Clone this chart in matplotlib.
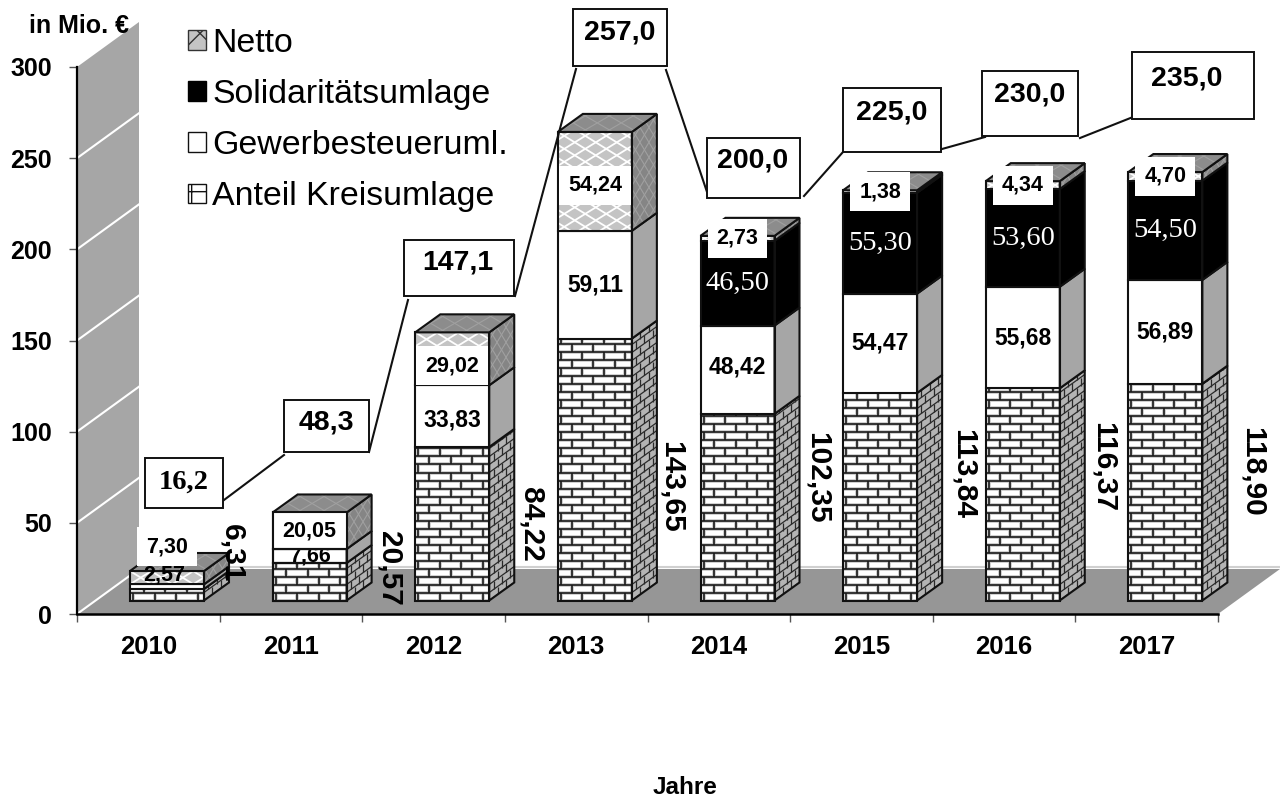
import numpy as np
import matplotlib
matplotlib.use("Agg")
import matplotlib.pyplot as plt
from matplotlib.patches import Polygon, Rectangle, Patch
from matplotlib.collections import LineCollection
from matplotlib.transforms import Affine2D

plt.rcParams['font.family'] = ['Liberation Sans', 'DejaVu Sans']
plt.rcParams['hatch.linewidth'] = 1.0

# data
years = ["2010", "2011", "2012", "2013", "2014", "2015", "2016", "2017"]
kreis = [6.31, 20.57, 84.22, 143.65, 102.35, 113.84, 116.37, 118.90]
gewerbe = [2.57, 7.66, 33.83, 59.11, 48.42, 54.47, 55.68, 56.89]
soli = [0, 0, 0, 0, 46.50, 55.30, 53.60, 54.50]
netto = [7.30, 20.05, 29.02, 54.24, 2.73, 1.38, 4.34, 4.70]
totals = [16.2, 48.3, 147.1, 257.0, 200.0, 225.0, 230.0, 235.0]
y_ticks = [0, 50, 100, 150, 200, 250, 300]

# geometry, in axis units
UX = 1 / 142.625       # one pixel along x
UY = 300 / 547.0       # one pixel along y
DX, DY = 62 * UX, 45 * UY
OFF_X, OFF_Y = 0.3 * DX, 0.3 * DY
SX, SY = 25 * UX, 18 * UY
BAR_W = 74 * UX
BAR_X = 130 * UX - 77 * UX

fig = plt.figure(figsize=(12.8, 7.99), dpi=100)
ax = fig.add_axes([77 / 1280, (799 - 614) / 799, 1141 / 1280, 547 / 799])
ax.set_xlim(0, 8)
ax.set_ylim(0, 300)
px = Affine2D().scale(1, -1).translate(0, 799) # pixel coords from top left


def face(points, color, z):
    p = Polygon(points, closed=True, facecolor=color, edgecolor='none', clip_on=False, zorder=z)
    ax.add_patch(p)
    return p


def outline(points, z, lw=1.5):
    p = Polygon(points, closed=True, facecolor='none', edgecolor='#111111', linewidth=lw,
                clip_on=False, zorder=z, joinstyle='miter')
    ax.add_patch(p)


def add_lines(segs, clip, color, lw, z):
    lc = LineCollection(segs, colors=color, linewidths=lw, zorder=z)
    lc.set_transform(ax.transData)
    lc.set_clip_path(clip)
    ax.add_collection(lc, autolim=False)


def lattice(poly, points, w, h, color, lw, z):
    pts = np.array(points)
    x0, x1 = pts[:, 0].min(), pts[:, 0].max()
    y0, y1 = pts[:, 1].min(), pts[:, 1].max()
    wu, hu = w * UX, h * UY
    segs = []
    n = int((x1 - x0) / wu + (y1 - y0) / hu) + 3
    for i in range(-n, n + 1):
        # lines through the box in both directions
        xa = x0 + i * wu
        segs.append([(xa, y0), (xa + (y1 - y0) / hu * wu, y1)])
        segs.append([(xa, y1), (xa + (y1 - y0) / hu * wu, y0)])
    add_lines(segs, poly, color, lw, z)


def bricks_front(poly, x0, x1, y0, y1, z):
    bh, bw = 8.0 * UY, 21.5 * UX
    segs = []
    y = y0
    row = 0
    while y < y1:
        segs.append([(x0, y), (x1, y)])
        shift = 0 if row % 2 == 0 else bw / 2
        xs = x0 + 3 * UX + shift
        while xs < x1:
            segs.append([(xs, y), (xs, y + bh)])
            xs += bw
        y += bh
        row += 1
    add_lines(segs, poly, '#c6c6c6', 2.6, z)
    add_lines(segs, poly, '#1a1a1a', 1.2, z)


def bricks_side(poly, x1, y0, y1, z):
    bh = 8.0 * UY
    segs = []
    y = y0
    row = 0
    while y < y1:
        segs.append([(x1, y), (x1 + SX, y + SY)])
        for f in (np.array([0.17, 0.5, 0.83]) if row % 2 else np.array([0.33, 0.67])):
            segs.append([(x1 + f * SX, y + f * SY), (x1 + f * SX, y + f * SY + bh)])
        y += bh
        row += 1
    add_lines(segs, poly, '#2a2a2a', 0.9, z)


def draw_segment(i, kind, y0, y1, z):
    x0 = i + BAR_X
    x1 = x0 + BAR_W
    front = [(x0, y0), (x1, y0), (x1, y1), (x0, y1)]
    side = [(x1, y0), (x1 + SX, y0 + SY), (x1 + SX, y1 + SY), (x1, y1)]
    if kind == 'kreis':
        p = face(front, 'white', z)
        bricks_front(p, x0, x1, y0, y1, z)
        p = face(side, '#b4b4b4', z)
        bricks_side(p, x1, y0, y1, z)
    elif kind == 'gewerbe':
        face(front, 'white', z)
        face(side, '#a6a6a6', z)
    elif kind == 'soli':
        face(front, 'black', z)
        face(side, 'black', z)
    else:
        p = face(front, '#c4c4c4', z)
        lattice(p, front, 21, 13, 'white', 1.3, z)
        p = face(side, '#858585', z)
        lattice(p, side, 9, 15, '#a0a0a0', 0.8, z)
    outline(front, z)
    outline(side, z)
    # the 2011 labels sit under the bar lines
    if i == 1:
        outline(front, 7)


# walls and floor
wall = [(0, 0), (DX, DY), (DX, 300 + DY), (0, 300)]
floor = [(0, 0), (8, 0), (8 + DX, DY), (DX, DY)]
face(wall, '#a6a6a6', 1)
face(floor, '#969696', 1)
ax.plot([DX, 8 + DX], [DY + 1, DY + 1], color='#d0d0d0', lw=1.5, clip_on=False, zorder=1)
for v in y_ticks[:-1]:
    ax.plot([0, DX], [v, v + DY], color='white', lw=1.5, clip_on=False, zorder=1.5)

# the bars
for i in range(len(years)):
    base = OFF_Y
    z = 3 + i * 0.1
    for kind, vals in (('kreis', kreis), ('gewerbe', gewerbe), ('soli', soli), ('netto', netto)):
        if vals[i] == 0:
            continue
        draw_segment(i, kind, base, base + vals[i], z)
        base += vals[i]
    x0 = i + BAR_X
    x1 = x0 + BAR_W
    top = [(x0, base), (x1, base), (x1 + SX, base + SY), (x0 + SX, base + SY)]
    p = face(top, '#8c8c8c', z)
    lattice(p, top, 24, 14, '#a0a0a0', 0.8, z)
    outline(top, z)

# labels on the bars, (dx, dy) in pixels where the label sits off the segment middle
label_off = {(0, 'gewerbe'): (-3, 12), (0, 'netto'): (0, 31), (2, 'gewerbe'): (0, -4),
             (2, 'netto'): (0, -7), (4, 'gewerbe'): (0, 3), (3, 'netto'): (0, -4)}


def txt(v):
    return f"{v:.2f}".replace('.', ',')


for i in range(len(years)):
    xc = i + BAR_X + BAR_W / 2
    b = OFF_Y + kreis[i]
    for kind, vals in (('gewerbe', gewerbe), ('soli', soli), ('netto', netto)):
        if vals[i] == 0:
            continue
        mid = b + vals[i] / 2
        b += vals[i]
        dx, dy = label_off.get((i, kind), (0, 0))
        s = txt(vals[i])
        pos = (xc + dx * UX, mid + dy * UY)
        if kind == 'soli':
            ax.text(*pos, s, color='white', family='Liberation Serif', fontsize=20.5,
                    ha='center', va='center', zorder=6)
        elif kind == 'gewerbe':
            fs = 15.5 if i < 2 else 16.5
            ax.text(*pos, s, fontweight='bold', fontsize=fs, ha='center', va='center', zorder=6)
        else:
            ax.text(*pos, s, fontweight='bold', fontsize=15.5, ha='center', va='center', zorder=6,
                    bbox=dict(boxstyle='square,pad=0.42', facecolor='white', edgecolor='none'))

# the rotated Kreisumlage labels right of each bar
kreis_px = [(232, 553), (390, 568), (532, 524), (672, 487), (818, 478), (964, 474), (1104, 467), (1253, 472)]
for v, (xp, yp) in zip(kreis, kreis_px):
    ax.text(xp, yp, txt(v), transform=px, rotation=-90, fontweight='bold', fontsize=21.5,
            ha='center', va='center', zorder=7)

# total boxes and the lines between them
boxes = [(145, 458, 223, 508), (284, 400, 369, 452), (404, 240, 514, 296), (573, 9, 667, 66),
         (707, 138, 800, 198), (843, 88, 941, 152), (982, 71, 1078, 136), (1132, 52, 1254, 119)]
box_text_x = [184, 326, 458, 620, 753, 892, 1030, 1187]
box_text_y = [482, 423, 263, 32, 160, 112, 95, 78]
links = [((224, 500), (284, 455)), ((369, 452), (408, 300)), ((515, 296), (576, 69)),
         ((666, 70), (707, 192)), ((804, 196), (843, 152)), ((942, 149), (985, 137)),
         ((1080, 138), (1133, 117))]
for a, b in links:
    ax.plot([a[0], b[0]], [a[1], b[1]], color='#111111', lw=1.5, transform=px, clip_on=False, zorder=8)
for i, bx in enumerate(boxes):
    ax.add_patch(Rectangle((bx[0], bx[1]), bx[2] - bx[0], bx[3] - bx[1], transform=px, facecolor='white',
                           edgecolor='#111111', linewidth=1.4, clip_on=False, zorder=9))
    s = f"{totals[i]:.1f}".replace('.', ',')
    fam = 'Liberation Serif' if i == 0 else 'Liberation Sans'
    ax.text(box_text_x[i], box_text_y[i], s, transform=px, fontweight='bold', fontsize=20.5, family=fam,
            ha='center', va='center', zorder=10)

# axes
for s in ('top', 'right'):
    ax.spines[s].set_visible(False)
ax.spines['left'].set_linewidth(1.6)
ax.spines['bottom'].set_linewidth(1.8)
ax.spines['left'].set_zorder(2.5)
ax.spines['bottom'].set_zorder(2.5)
ax.set_yticks(y_ticks)
ax.set_xticks(np.arange(0, 9))
ax.set_xticklabels([])
ax.set_xticks(np.arange(len(years)) + 0.5, minor=True)
ax.set_xticklabels(years, minor=True, fontweight='bold', fontsize=18.5)
ax.tick_params(axis='x', which='major', length=6, width=1, color='#555555')
ax.tick_params(axis='x', which='minor', length=0, pad=15)
ax.tick_params(axis='y', length=6, width=1, color='#555555', pad=12, labelsize=18)
for t in ax.get_yticklabels():
    t.set_fontweight('bold')

ax.text(129, 26, "in Mio. €", transform=px, fontweight='bold', fontsize=18, ha='right', va='center', zorder=10)
ax.text(685, 788, "Jahre", transform=px, fontweight='bold', fontsize=17.5, ha='center', va='center')

# legend
handles = [Patch(facecolor='#c4c4c4', edgecolor='#333333', hatch='x', label="Netto"),
           Patch(facecolor='black', edgecolor='black', label="Solidaritätsumlage"),
           Patch(facecolor='white', edgecolor='#111111', label="Gewerbesteueruml."),
           Patch(facecolor='white', edgecolor='#111111', hatch='+', label="Anteil Kreisumlage")]
leg = ax.legend(handles=handles, loc='upper left', bbox_to_anchor=(188, 28), bbox_transform=px,
                frameon=False, fontsize=24.4, handlelength=0.52, handleheight=0.52,
                handletextpad=0.2, labelspacing=0.595, borderpad=0, borderaxespad=0)
leg.set_zorder(10)

fig.savefig("out.png", dpi=100)
